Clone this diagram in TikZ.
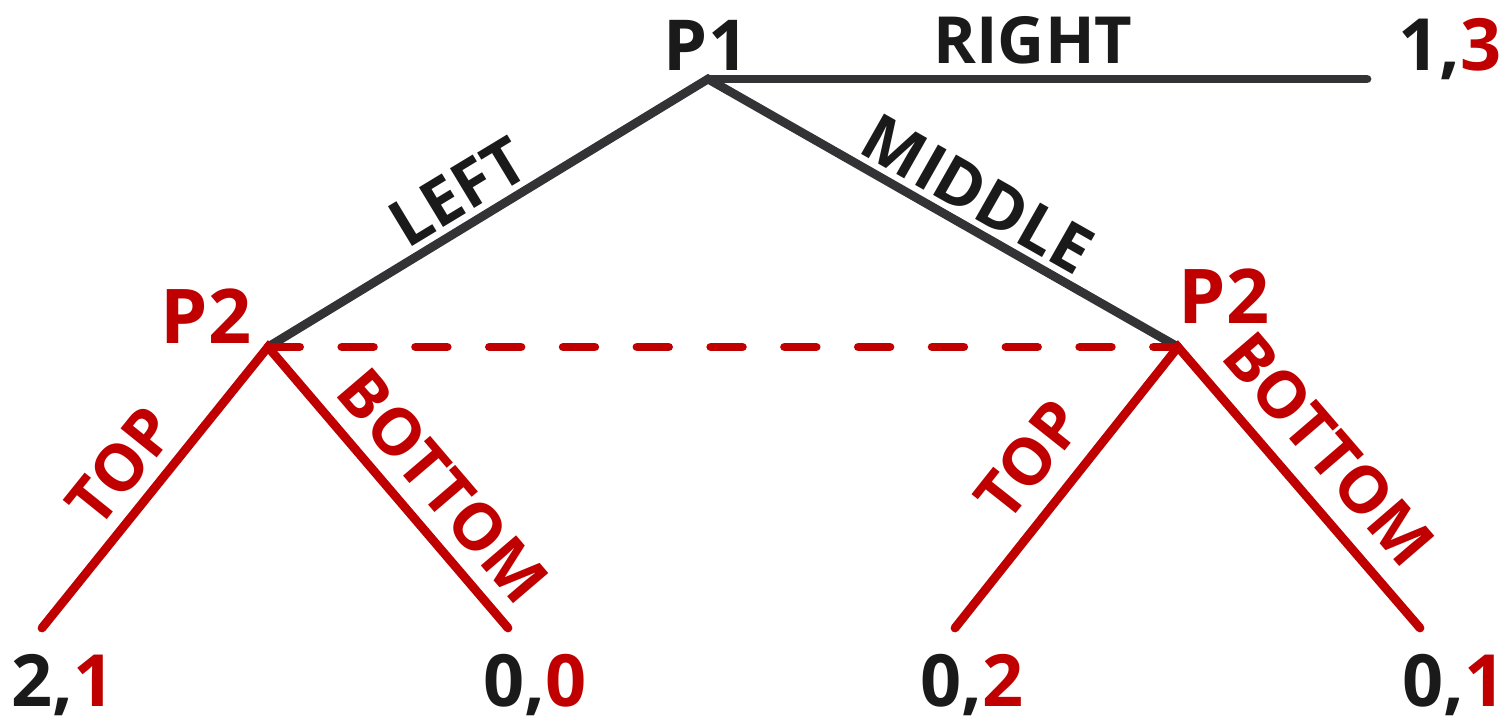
\documentclass[tikz,border=0pt]{standalone}
\usepackage{fontspec}
\setmainfont{Open Sans}
\definecolor{pline}{RGB}{51,51,53}
\definecolor{ptext}{RGB}{26,26,26}
\definecolor{pred}{RGB}{192,0,0}
\tikzset{
  darkedge/.style={draw=pline,line width=5pt,line cap=round,line join=miter},
  rededge/.style={draw=pred,line width=5pt,line cap=round,line join=miter},
  infoset/.style={draw=pred,line width=5pt,line cap=round,dash pattern=on 18pt off 24pt},
  lbl/.style={inner sep=0pt,font=\fontsize{37}{40}\selectfont\bfseries,text=ptext},
  redlbl/.style={lbl,text=pred},
  player/.style={inner sep=0pt,font=\fontsize{40}{44}\selectfont\bfseries,text=ptext},
  redplayer/.style={inner sep=0pt,font=\fontsize{43}{46}\selectfont\bfseries,text=pred},
  payoff/.style={inner sep=0pt,anchor=base,font=\fontsize{41}{44}\selectfont\bfseries,text=ptext}
}
\begin{document}
\begin{tikzpicture}[x=0.02cm,y=-0.02cm]
\useasboundingbox (0,0) rectangle (1509,721);
% vertices
\coordinate (P1v) at (708,79);
\coordinate (Rend) at (1367,79);
\coordinate (A) at (268,347);
\coordinate (B) at (1178,347);
\coordinate (TL) at (42,628);
\coordinate (BL) at (508,628);
\coordinate (TR) at (955,628);
\coordinate (BR) at (1420,628);
% dark edges
\draw[darkedge] (A) -- (P1v) -- (B);
\draw[darkedge] (P1v) -- (Rend);
% red edges
\draw[rededge] (TL) -- (A) -- (BL);
\draw[rededge] (TR) -- (B) -- (BR);
\draw[infoset] (A) -- (B);
% player labels
\node[player] (p1) at (706,45) {P1};
\node[redplayer] (p2l) at (206,316) {P2};
\node[redplayer] (p2r) at (1224,296) {P2};
% action labels
\node[lbl] (right) at (1033,40) {RIGHT};
\node[lbl,rotate=31.2] (left) at (458,192) {LEFT};
\node[lbl,rotate=-29.6] (middle) at (978,194) {MIDDLE};
\node[redlbl,rotate=51.2] (topl) at (121,466) {TOP};
\node[redlbl,rotate=-49.5] (botl) at (443,486) {BOTTOM};
\node[redlbl,rotate=51.6] (topr) at (1029,460) {TOP};
\node[redlbl,rotate=-49.3] (botr) at (1329,449) {BOTTOM};
% payoffs
\node[payoff] (pr) at (1450,70) {1,\textcolor{pred}{3}};
\node[payoff] (ptl) at (63,706) {2,\textcolor{pred}{1}};
\node[payoff] (pbl) at (535,706) {0,\textcolor{pred}{0}};
\node[payoff] (ptr) at (972,706) {0,\textcolor{pred}{2}};
\node[payoff] (pbr) at (1454,706) {0,\textcolor{pred}{1}};
\end{tikzpicture}
\end{document}
